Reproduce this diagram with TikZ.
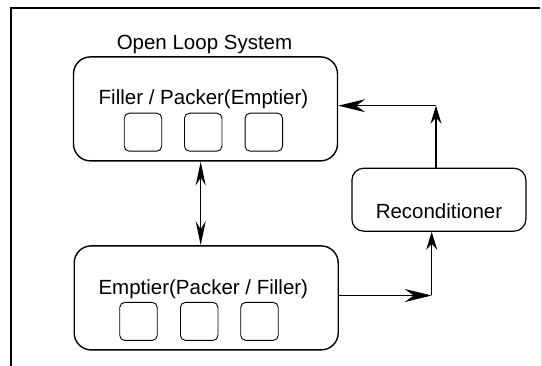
\documentclass[tikz,border=0pt]{standalone}
\usepackage{fontspec}
\setmainfont{Liberation Sans}
\usepackage{tikz}
\usetikzlibrary{arrows.meta}

\tikzset{
  bigbox/.style={draw,line width=1.4pt,rounded corners=17pt,minimum width=264pt,minimum height=104pt},
  cell/.style={draw,line width=0.9pt,rounded corners=5pt,minimum width=37.5pt,minimum height=38pt},
  recbox/.style={draw,line width=1.2pt,rounded corners=12pt,minimum width=174pt,minimum height=63pt},
  txt/.style={anchor=base,inner sep=0pt,font=\fontsize{20.5}{24}\selectfont},
  hlink/.style={line width=1.3pt,-{Stealth[length=27pt,width=13pt,inset=9pt]}},
  vlink/.style={line width=1.3pt,-{Stealth[length=18pt,width=11pt,inset=6pt]}},
  dlink/.style={line width=1.3pt,{Stealth[length=24pt,width=10pt,inset=8pt]}-{Stealth[length=24pt,width=10pt,inset=8pt]}}
}

\begin{document}
\begin{tikzpicture}[x=1pt,y=-1pt]
    \useasboundingbox (0,0) rectangle (542,366);
    % frame
    \draw[line width=1.6pt] (10.7,366) -- (10.7,8) -- (540,8);
    \draw[gray!25,line width=0.8pt] (541,8) -- (541,366);
    % filler side
    \node[txt] (title) at (204.5,49.3) {Open Loop System};
    \node[bigbox] (filler) at (205.5,108.9) {};
    \node[txt] (fillertxt) at (203.5,104.3) {Filler / Packer(Emptier)};
    \foreach \x [count=\i] in {143,203.2,263.8}
      \node[cell] (fcell\i) at (\x,132.2) {};
    % emptier side
    \node[bigbox] (emptier) at (206.2,297.9) {};
    \node[txt] (emptiertxt) at (203.3,295) {Emptier(Packer / Filler)};
    \foreach \x [count=\i] in {138.5,199.2,259.5}
      \node[cell] (ecell\i) at (\x,321.4) {};
    % reconditioner
    \node[recbox] (recon) at (438.9,199.7) {};
    \node[txt] (recontxt) at (439,218.3) {Reconditioner};
    % connectors
    \coordinate (mid) at (200.7,0);
    \coordinate (c1) at (431.7,295.5);
    \coordinate (c2) at (436,105.7);
    \draw[dlink] (filler.south -| mid) -- (emptier.north -| mid);
    \draw[hlink] (emptier.east |- c1) -- (c1);
    \draw[vlink] (c1) -- (recon.south -| c1);
    \draw[vlink] (recon.north -| c2) -- (c2);
    \draw[hlink] (c2) -- (filler.east |- c2);
\end{tikzpicture}
\end{document}
